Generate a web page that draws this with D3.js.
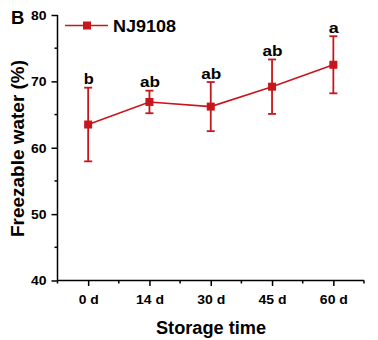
<!DOCTYPE html>
<html><head><meta charset="utf-8">
<script src="https://cdn.jsdelivr.net/npm/d3@7"></script>
<style>
html,body{margin:0;padding:0;background:#fff;}
svg{display:block;}
text{font-family:"Liberation Sans",Arial,sans-serif;font-weight:bold;fill:#000;}
</style></head>
<body>
<svg id="chart" width="378" height="340"></svg>
<script>
const categories = ["0 d", "14 d", "30 d", "45 d", "60 d"];
const means = [63.5, 66.9, 66.2, 69.2, 72.5];
const sds = [5.55, 1.7, 3.7, 4.1, 4.3];
const letters = ["b", "ab", "ab", "ab", "a"];
const yTicks = [40, 50, 60, 70, 80];
const yMinorTicks = [45, 55, 65, 75];
const seriesName = "NJ9108";
const red = "#c8161d";

const svg = d3.select("#chart");
const x = d3.scaleLinear().domain([0, 5]).range([57.5, 364]);
const y = d3.scaleLinear().domain([40, 80]).range([280.5, 15]);
const cx = i => x(i + 0.5);

// axes
const yAxis = d3.axisLeft(y).tickValues(yTicks).tickSize(6).tickPadding(5).tickFormat(d3.format("d"));
const gy = svg.append("g").attr("transform", `translate(${x(0)},0)`).call(yAxis);
gy.select(".domain").attr("stroke", "#000").attr("stroke-width", 1.5).attr("d", `M0,${y(80)}V${y(40)}`);
gy.selectAll(".tick line").attr("stroke", "#000").attr("stroke-width", 1.5);
gy.selectAll(".tick text").attr("font-size", 12).attr("textLength", 15.5).attr("lengthAdjust", "spacingAndGlyphs").attr("dy", "0.36em");
gy.selectAll(".minor").data(yMinorTicks).enter().append("line")
  .attr("x1", -3).attr("x2", 0).attr("y1", d => y(d)).attr("y2", d => y(d))
  .attr("stroke", "#000").attr("stroke-width", 1.5);

const xAxis = d3.axisBottom(x).tickValues(categories.map((c, i) => i + 0.5))
  .tickFormat((d, i) => categories[i]).tickSize(5.5).tickPadding(9);
const gx = svg.append("g").attr("transform", `translate(0,${y(40)})`).call(xAxis);
gx.select(".domain").attr("stroke", "#000").attr("stroke-width", 1.5).attr("d", `M${x(0)},0H${x(5)}`);
gx.selectAll(".tick line").attr("stroke", "#000").attr("stroke-width", 1.5);
gx.selectAll(".tick text").attr("font-size", 12)
  .attr("textLength", (d, i) => categories[i].length === 3 ? 20 : 28)
  .attr("lengthAdjust", "spacingAndGlyphs");
gx.selectAll(".minor").data(d3.range(0, 6)).enter().append("line")
  .attr("x1", d => x(d)).attr("x2", d => x(d)).attr("y1", 0).attr("y2", 3)
  .attr("stroke", "#000").attr("stroke-width", 1.5);

// axis titles
svg.append("text").attr("x", 211).attr("y", 333.5).attr("text-anchor", "middle")
  .attr("font-size", 17.5).attr("textLength", 110).attr("lengthAdjust", "spacingAndGlyphs")
  .text("Storage time");
svg.append("text").attr("transform", "translate(23.5,148.5) rotate(-90)").attr("text-anchor", "middle")
  .attr("font-size", 17.5).attr("textLength", 177).attr("lengthAdjust", "spacingAndGlyphs")
  .text("Freezable water (%)");
svg.append("text").attr("x", 11).attr("y", 23.5).attr("font-size", 18.5).text("B");

// line
const line = d3.line().x((d, i) => cx(i)).y(d => y(d));
svg.append("path").datum(means).attr("d", line).attr("fill", "none")
  .attr("stroke", red).attr("stroke-width", 1.6);

// error bars
const eb = svg.append("g").attr("stroke", red).attr("stroke-width", 1.8);
means.forEach((m, i) => {
  const t = y(m + sds[i]), b = y(m - sds[i]);
  eb.append("line").attr("x1", cx(i)).attr("x2", cx(i)).attr("y1", t).attr("y2", b);
  eb.append("line").attr("x1", cx(i) - 4).attr("x2", cx(i) + 4).attr("y1", t).attr("y2", t);
  eb.append("line").attr("x1", cx(i) - 4).attr("x2", cx(i) + 4).attr("y1", b).attr("y2", b);
});

// markers
svg.selectAll(".pt").data(means).enter().append("rect")
  .attr("x", (d, i) => cx(i) - 4).attr("y", d => y(d) - 4)
  .attr("width", 8).attr("height", 8).attr("fill", red);

// significance letters
svg.selectAll(".sig").data(letters).enter().append("text")
  .attr("x", (d, i) => cx(i) + 0.5).attr("y", (d, i) => y(means[i] + sds[i]) - 3.5)
  .attr("text-anchor", "middle").attr("font-size", 14.5)
  .attr("textLength", d => d.length === 1 ? 10 : 20).attr("lengthAdjust", "spacingAndGlyphs")
  .text(d => d);

// legend
svg.append("line").attr("x1", 65).attr("x2", 108).attr("y1", 25.5).attr("y2", 25.5)
  .attr("stroke", red).attr("stroke-width", 1.6);
svg.append("rect").attr("x", 83).attr("y", 21.5).attr("width", 8).attr("height", 8).attr("fill", red);
svg.append("text").attr("x", 113).attr("y", 32).attr("font-size", 17)
  .attr("textLength", 63).attr("lengthAdjust", "spacingAndGlyphs").text(seriesName);
</script>
</body></html>
